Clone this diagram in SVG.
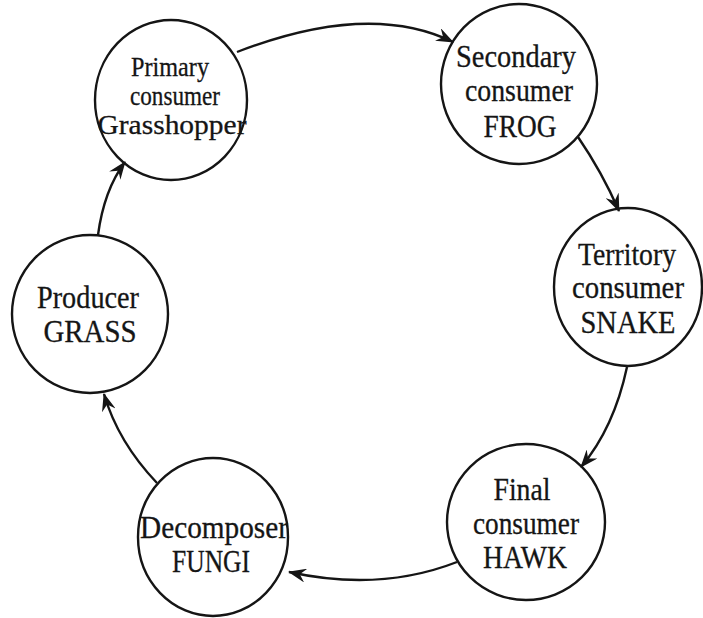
<svg xmlns="http://www.w3.org/2000/svg" width="703" height="618" viewBox="0 0 703 618">
<style>
  .node ellipse { fill: none; stroke: #151515; stroke-width: 2.4; }
  .node text { font-family: "Liberation Serif", "Times New Roman", serif; font-size: 31px; fill: #151515; stroke: #151515; stroke-width: 0.3; text-anchor: middle; }
  .node.small text { font-size: 28px; }
  .conn path { fill: none; stroke: #151515; stroke-width: 2.4; marker-end: url(#arrow); }
</style>
<defs>
  <marker id="arrow" viewBox="0 0 18 14" refX="17" refY="7" markerWidth="18" markerHeight="14" markerUnits="userSpaceOnUse" orient="auto">
    <path d="M0,0 L18,7 L0,14 L6,7 z" fill="#151515"/>
  </marker>
</defs>
<rect width="703" height="618" fill="#ffffff"/>

<g id="connectors" class="conn">
  <path d="M237,52 Q369,1 453,42"/>
  <path d="M578,137 Q602,172 619,211"/>
  <path d="M627,367 Q614,428 581,467"/>
  <path d="M457,562 Q380,592 289,572"/>
  <path d="M157,483 Q118,442 104,394"/>
  <path d="M98,235 Q104,190 125,162"/>
</g>

<g id="primary" class="node small">
  <ellipse cx="171" cy="100" rx="76" ry="80"/>
  <text x="170" y="76" textLength="78" lengthAdjust="spacingAndGlyphs">Primary</text>
  <text x="175" y="105" textLength="90" lengthAdjust="spacingAndGlyphs">consumer</text>
  <text x="172" y="134" textLength="149" lengthAdjust="spacingAndGlyphs">Grasshopper</text>
</g>

<g id="secondary" class="node">
  <ellipse cx="519" cy="84" rx="78" ry="80"/>
  <text x="516" y="67" textLength="120" lengthAdjust="spacingAndGlyphs">Secondary</text>
  <text x="519" y="101" textLength="108" lengthAdjust="spacingAndGlyphs">consumer</text>
  <text x="520" y="137" textLength="73" lengthAdjust="spacingAndGlyphs">FROG</text>
</g>

<g id="territory" class="node">
  <ellipse cx="628" cy="287" rx="74" ry="79"/>
  <text x="627" y="265" textLength="98" lengthAdjust="spacingAndGlyphs">Territory</text>
  <text x="628" y="298" textLength="112" lengthAdjust="spacingAndGlyphs">consumer</text>
  <text x="628" y="333" textLength="95" lengthAdjust="spacingAndGlyphs">SNAKE</text>
</g>

<g id="final" class="node">
  <ellipse cx="526" cy="522" rx="79" ry="78"/>
  <text x="522" y="500" textLength="57" lengthAdjust="spacingAndGlyphs">Final</text>
  <text x="526" y="534" textLength="106" lengthAdjust="spacingAndGlyphs">consumer</text>
  <text x="525" y="568" textLength="84" lengthAdjust="spacingAndGlyphs">HAWK</text>
</g>

<g id="decomposer" class="node">
  <ellipse cx="213" cy="537" rx="75" ry="79"/>
  <text x="214" y="538" textLength="148" lengthAdjust="spacingAndGlyphs">Decomposer</text>
  <text x="211" y="572" textLength="78" lengthAdjust="spacingAndGlyphs">FUNGI</text>
</g>

<g id="producer" class="node">
  <ellipse cx="90" cy="314" rx="78" ry="79"/>
  <text x="88" y="308" textLength="102" lengthAdjust="spacingAndGlyphs">Producer</text>
  <text x="90" y="342" textLength="93" lengthAdjust="spacingAndGlyphs">GRASS</text>
</g>
</svg>
